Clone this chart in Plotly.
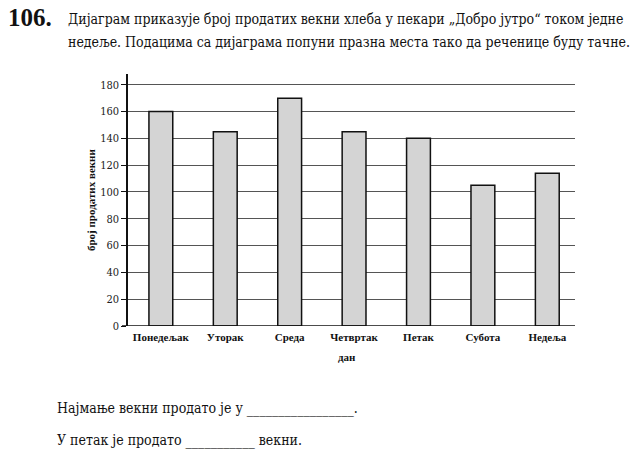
import plotly.graph_objects as go

days = ["Понедељак", "Уторак", "Среда", "Четвртак", "Петак", "Субота", "Недеља"]
loaves = [160, 145, 170, 145, 140, 105, 114]
y_ticks = [0, 20, 40, 60, 80, 100, 120, 140, 160, 180]

W, H = 642, 458
L, R, T, B = 128, 67, 74, 132
pw, ph = W - L - R, H - T - B

def px(x):
    return (x - L) / pw

def py(y):
    return (H - B - y) / ph

SERIF = "'Liberation Serif', 'DejaVu Serif', serif"
SERIF2 = "'DejaVu Serif Condensed', 'DejaVu Serif', serif"

fig = go.Figure()
fig.add_trace(go.Bar(
    x=list(range(len(days))), y=loaves, width=0.37,
    marker=dict(color="#d4d4d4", line=dict(color="#111", width=1.5)),
    hoverinfo="skip",
))

fig.update_layout(
    width=W, height=H, margin=dict(l=L, r=R, t=T, b=B),
    paper_bgcolor="white", plot_bgcolor="white", showlegend=False,
    font=dict(family=SERIF, color="#111"),
    xaxis=dict(
        range=[-0.51, 6.43], tickmode="array",
        tickvals=list(range(len(days))), ticktext=days,
        tickfont=dict(family=SERIF, size=11, color="#111", weight="bold"),
        showgrid=False, zeroline=False, showline=False, ticks="",
        ticklabelstandoff=3,
    ),
    yaxis=dict(
        range=[0, 188], tickmode="array", tickvals=y_ticks,
        tickfont=dict(family=SERIF2, size=11, color="#222"),
        showgrid=True, gridcolor="#555", gridwidth=1.3,
        zeroline=False, showline=True, linecolor="#111", linewidth=1.5,
        ticks="outside", ticklen=5, tickcolor="#111", tickwidth=1.3,
    ),
    bargap=0.6,
)

# x axis baseline
fig.add_shape(type="line", xref="paper", yref="y", x0=px(122), x1=1, y0=0, y1=0,
              line=dict(color="#111", width=1.6))

ann = []
ann.append(dict(text="<b>106.</b>", x=px(6), y=py(18), xanchor="left", yanchor="middle",
                font=dict(family=SERIF, size=25, color="#111")))
ann.append(dict(text="Дијаграм приказује број продатих векни хлеба у пекари „Добро јутро“ током једне",
                x=px(66), y=py(19), xanchor="left", yanchor="middle",
                font=dict(family=SERIF2, size=14, color="#111")))
ann.append(dict(text="недеље. Подацима са дијаграма попуни празна места тако да реченице буду тачне.",
                x=px(66), y=py(42), xanchor="left", yanchor="middle",
                font=dict(family=SERIF2, size=14, color="#111")))
ann.append(dict(text="<b>број продатих векни</b>", x=px(91), y=py(200), textangle=-90,
                xanchor="center", yanchor="middle",
                font=dict(family=SERIF, size=11, color="#111")))
ann.append(dict(text="<b>дан</b>", x=px(347), y=py(357), xanchor="center", yanchor="middle",
                font=dict(family=SERIF, size=11, color="#111")))
ann.append(dict(text="Најмање векни продато је у " + "_" * 17 + ".", x=px(55), y=py(408),
                xanchor="left", yanchor="middle", font=dict(family=SERIF2, size=14, color="#111")))
ann.append(dict(text="У петак је продато " + "_" * 11 + " векни.", x=px(55), y=py(440),
                xanchor="left", yanchor="middle", font=dict(family=SERIF2, size=14, color="#111")))
for a in ann:
    a.update(xref="paper", yref="paper", showarrow=False)
fig.update_layout(annotations=ann)

fig.write_html("out.html")
